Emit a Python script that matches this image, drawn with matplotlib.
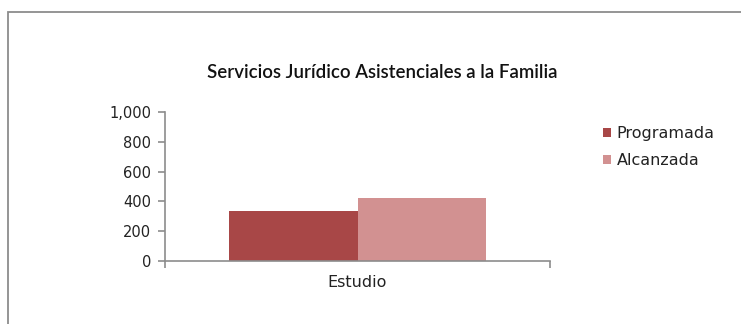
import numpy as np
import matplotlib
matplotlib.use("Agg")
import matplotlib.pyplot as plt
from matplotlib.patches import Rectangle
from matplotlib.ticker import FuncFormatter

# datos del gráfico
categorias = ["Estudio"]
series = ["Programada", "Alcanzada"]
programada = [335]
alcanzada = [423]
colores = ["#A84747", "#D29191"]

plt.rcParams['font.family'] = ['DejaVu Sans']

fig = plt.figure(figsize=(7.41, 3.24), dpi=100)

# marco gris del área del gráfico
fig.patches.append(Rectangle((8 / 741, -0.1), 1.0, 1 - 12 / 324 + 0.1,
                             transform=fig.transFigure, fill=False,
                             edgecolor="#8c8c8c", linewidth=1.3))

ax = fig.add_axes([165 / 741, 1 - 261 / 324, (550 - 165) / 741, (261 - 112) / 324])

x = np.arange(len(categorias))
ancho = 0.335
ax.bar(x - ancho / 2, programada, ancho, color=colores[0], label=series[0])
ax.bar(x + ancho / 2, alcanzada, ancho, color=colores[1], label=series[1])

ax.set_xlim(-0.5, 0.5)
ax.set_ylim(0, 1000)
ax.set_yticks(range(0, 1001, 200))
ax.yaxis.set_major_formatter(FuncFormatter(lambda v, p: f"{int(v):,}"))
ax.set_xticks(x)
ax.set_xticklabels(categorias)
ax.set_xticks([-0.5, 0.5], minor=True)

for s in ["top", "right"]:
    ax.spines[s].set_visible(False)
for s in ["left", "bottom"]:
    ax.spines[s].set_color("#8c8c8c")
    ax.spines[s].set_linewidth(1.2)

ax.tick_params(axis="y", colors="#8c8c8c", labelcolor="#222222", labelsize=10.5,
               length=5, width=1.2, pad=5)
ax.tick_params(axis="x", which="major", length=0, labelsize=11.5, labelcolor="#222222", pad=10)
ax.tick_params(axis="x", which="minor", length=5, width=1.2, colors="#8c8c8c")

fig.text(382 / 741, 1 - 72 / 324, "Servicios Jurídico Asistenciales a la Familia",
         ha="center", va="center", fontsize=13.4, fontweight="semibold",
         family=["Lato", "DejaVu Sans"], color="#111111")

leg = ax.legend(loc="upper left", bbox_to_anchor=(603 / 741, 1 - 126 / 324),
                bbox_transform=fig.transFigure, frameon=False, fontsize=11.5,
                handlelength=0.5, handleheight=0.5, handletextpad=0.35,
                labelspacing=0.75, borderpad=0, borderaxespad=0)
for t in leg.get_texts():
    t.set_color("#222222")

plt.savefig("out.png", dpi=100)
